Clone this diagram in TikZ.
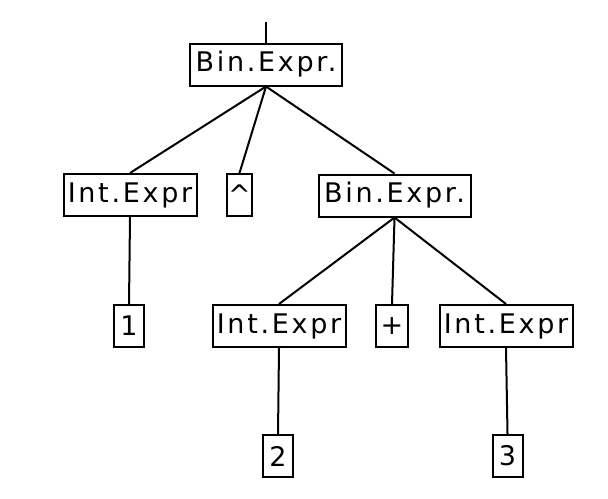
\documentclass[tikz,border=0pt]{standalone}
\usepackage{fontspec}
\setmainfont{DejaVu Sans}[LetterSpace=10]
\usepackage{tikz}
\usetikzlibrary{positioning}

\begin{document}
\begin{tikzpicture}[
    x=0.5pt, y=-0.5pt,
    exprbox/.style={draw, line width=1pt, inner sep=0pt, minimum height=21pt, font=\fontsize{13.5}{15}\selectfont},
    binbox/.style={exprbox, minimum width=76pt},
    intbox/.style={exprbox, minimum width=66.5pt},
    leafbox/.style={exprbox, minimum width=15pt},
    edge/.style={line width=1pt}
]
\useasboundingbox (0,0) rectangle (608,498);

% ---- Root ----
\coordinate (top) at (266,22);
\node[binbox] (root) at (266,64.5) {Bin.Expr.};

% ---- Second row ----
\node[intbox]  (intL)  at (130,195)   {Int.Expr};
\node[exprbox, minimum width=12.5pt] (caret) at (239.5,195) {\textasciicircum};
\node[binbox]  (binR)  at (394.5,195.5) {Bin.Expr.};

% ---- Third row ----
\node[leafbox] (one)   at (129,326)   {1};
\node[intbox]  (intM)  at (279,326)   {Int.Expr};
\node[exprbox, minimum width=16pt] (plus) at (392,326) {+};
\node[intbox]  (intR)  at (506,326)   {Int.Expr};

% ---- Leaves ----
\node[leafbox] (two)   at (278,456)   {2};
\node[leafbox] (three) at (507.5,456) {3};

% ---- Edges ----
\draw[edge] (top) -- (root.north);
\foreach \c in {intL, caret, binR} { \draw[edge] (root.south) -- (\c.north); }
\draw[edge] (intL.south) -- (one.north);
\foreach \c in {intM, plus, intR} { \draw[edge] (binR.south) -- (\c.north); }
\draw[edge] (intM.south) -- (two.north);
\draw[edge] (intR.south) -- (three.north);

\end{tikzpicture}
\end{document}
